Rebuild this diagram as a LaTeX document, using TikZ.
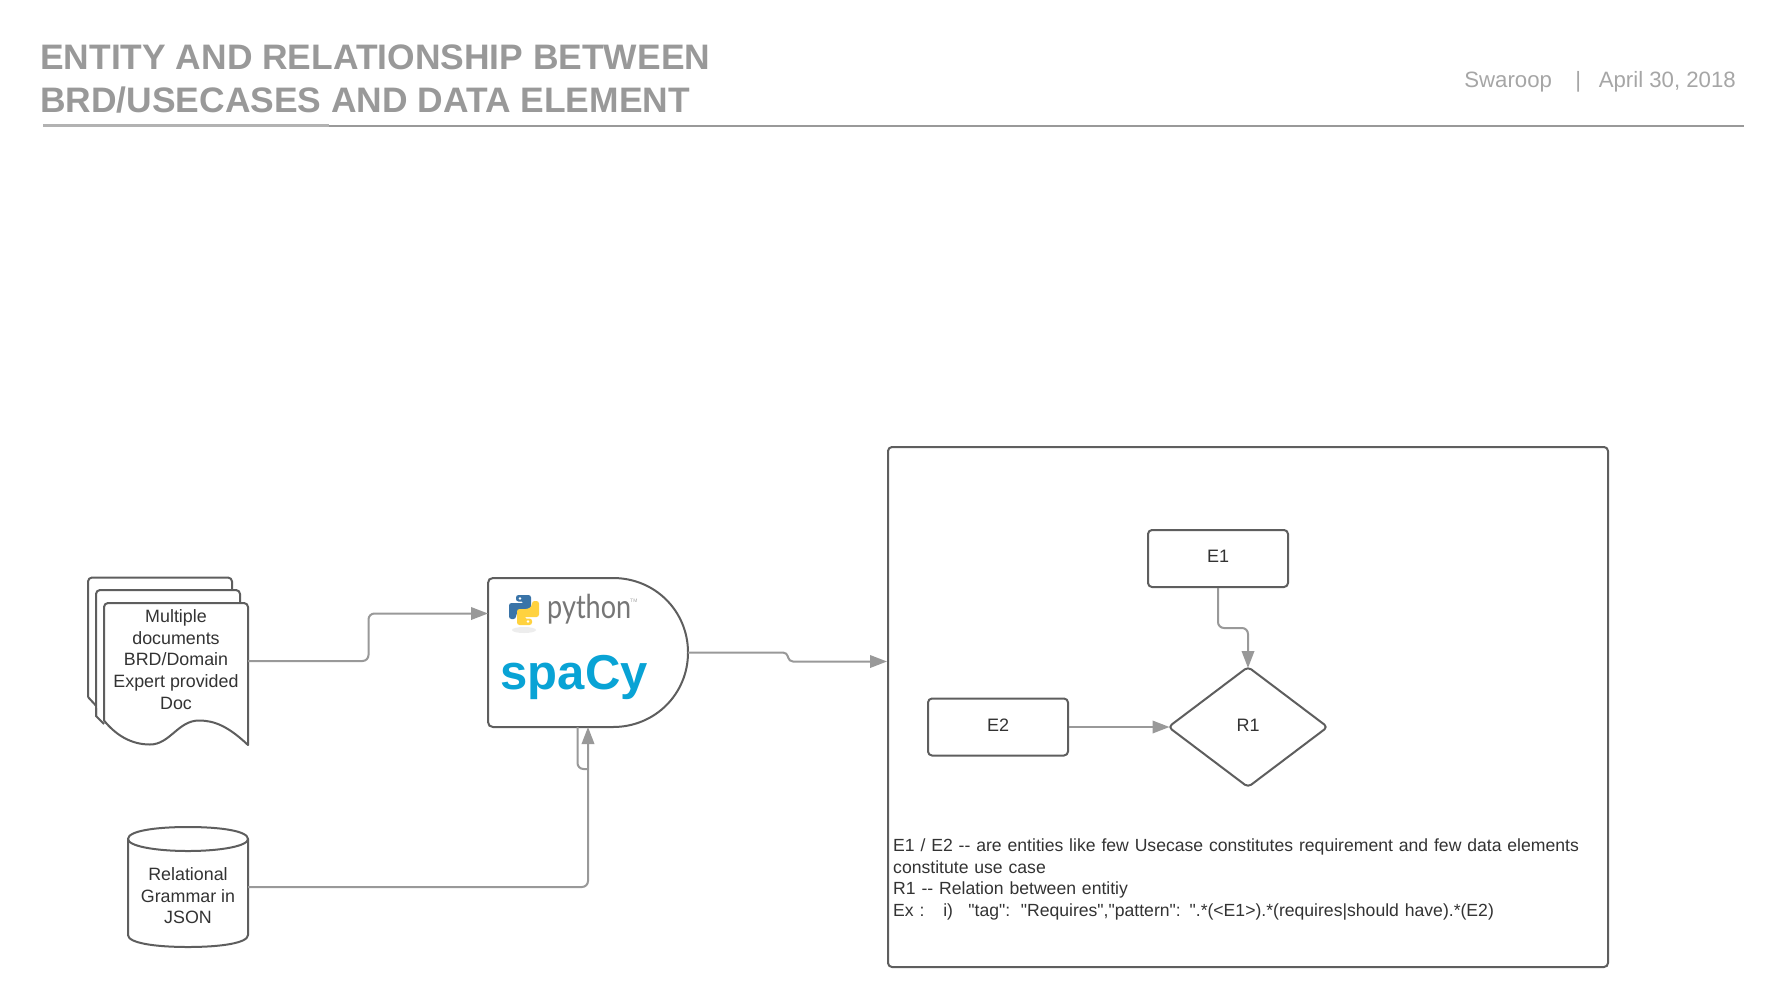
\documentclass[tikz,border=0pt]{standalone}
\usepackage{fontspec}
\setmainfont{Liberation Sans}
\newfontfamily\notefont{Liberation Sans}
\newfontfamily\pyfont{Lato}
\usetikzlibrary{arrows.meta,shapes.geometric}
\definecolor{ln}{HTML}{5E5E5E}
\definecolor{cn}{HTML}{999999}
\definecolor{tx}{HTML}{333333}
\definecolor{hd}{HTML}{999999}
\definecolor{sub}{HTML}{A6A6A6}
\definecolor{spacyblue}{HTML}{09A3D5}
\definecolor{pyblue}{HTML}{3A74A8}
\definecolor{pyyellow}{HTML}{FFD23F}
\newcommand{\fsz}[2]{\fontsize{#1}{#2}\selectfont}
\tikzset{
  x=1pt,y=-1pt,
  outline/.style={draw=ln,line width=2pt,line join=round},
  blank/.style={inner sep=0pt,outer sep=0pt,minimum width=#1},
  entbox/.style={outline,rounded corners=4pt,inner sep=0pt,minimum width=140pt,minimum height=57pt},
  conn/.style={draw=cn,line width=2pt,rounded corners=6pt},
  arrowed/.style={conn,-{Triangle[length=17pt,width=12.5pt,fill=cn]}},
  lbl/.style={text=tx,align=center,font=\fsz{17.85}{21.6},inner sep=0pt},
  entlabel/.style={anchor=base,inner sep=0pt,text=tx,font=\fsz{18}{22}},
}
\begin{document}
\begin{tikzpicture}
\useasboundingbox (0,0) rectangle (1785,1007);
\fill[white] (0,0) rectangle (1785,1007);
% header
\node[anchor=base west,inner sep=0pt,text=hd,font=\fsz{35.4}{43}\bfseries] (t1) at (40,69) {ENTITY AND RELATIONSHIP BETWEEN};
\node[anchor=base west,inner sep=0pt,text=hd,font=\fsz{35.4}{43}\bfseries] (t2) at (40,112) {BRD/USECASES AND DATA ELEMENT};
\node[anchor=base east,inner sep=0pt,text=sub,font=\fsz{22.2}{26}] (author) at (1736,87.5) {Swaroop\hspace{1.05em}|\hspace{0.8em}April 30, 2018};
\draw[cn,line width=2.5pt] (329,126) -- (1744,126);
\draw[cn!75,line width=2.5pt] (43,125.7) -- (329,125.7);
% stacked documents
\draw[outline,fill=white,rounded corners=4pt] (88,697) -- (88,577.5) -- (232,577.5) -- (232,620);
\draw[outline] (88,697) -- (100,710);
\draw[outline,fill=white,rounded corners=4pt] (96,716) -- (96,590) -- (240,590) -- (240,620);
\draw[outline] (96,708) -- (96,716) -- (104,724);
\draw[outline,fill=white] (104,720.5) [rounded corners=4pt] -- (104,603) -- (248,603) [sharp corners] -- (248,745)
  .. controls (228,726) and (214,720.5) .. (199,720.5)
  .. controls (178,720.5) and (170,744.5) .. (150,744.5)
  .. controls (130,744.5) and (115,734) .. (104,720.5) -- cycle;
\node[blank=144pt,minimum height=118pt] (doc) at (176,661) {};
\node[lbl] (doctext) at (176,659.5) {Multiple\\documents\\BRD/Domain\\Expert provided\\Doc};
% cylinder
\draw[outline,fill=white] (128,839) .. controls (128,831) and (155,827) .. (188,827)
  .. controls (221,827) and (248,831) .. (248,839) -- (248,935)
  .. controls (248,943) and (221,947) .. (188,947)
  .. controls (155,947) and (128,943) .. (128,935) -- cycle;
\draw[outline] (128,839) .. controls (128,846) and (155,851) .. (188,851) .. controls (221,851) and (248,846) .. (248,839);
\node[blank=120pt,minimum height=120pt] (cyl) at (188,887) {};
\node[lbl] (cyltext) at (188,896) {Relational\\Grammar in\\JSON};
% python / spaCy shape
\draw[outline,fill=white] (613,578) .. controls (655,578) and (688,611) .. (688,652.5)
  .. controls (688,694) and (655,727) .. (613,727) -- (493,727)
  .. controls (490,727) and (488,725) .. (488,722) -- (488,583)
  .. controls (488,580) and (490,578) .. (493,578) -- cycle;
\node[blank=200pt,minimum height=149pt] (py) at (588,652.5) {};
% python logo
\fill[gray!14] (524,630) ellipse [x radius=12,y radius=3];
\fill[pyblue,rounded corners=2.5pt] (516,595) -- (531,595) -- (531,611) -- (520,611) -- (516,614) -- (516,619) -- (509,619) -- (509,603) -- (524,603) -- (524,601.5) -- (516,601.5) -- cycle;
\fill[pyyellow,rounded corners=2.5pt] (532,625) -- (517,625) -- (517,609) -- (528,609) -- (532,606) -- (532,601) -- (539,601) -- (539,617) -- (524,617) -- (524,618.5) -- (532,618.5) -- cycle;
\fill[white] (520,598.5) circle (1.4);
\fill[white] (528,621.5) circle (1.4);
\node[anchor=base west,inner sep=0pt,text=ln!85,font=\pyfont\fsz{33}{33}] (pytext) at (547,618) {\scalebox{.82}[1]{python}};
\node[anchor=base west,inner sep=0pt,text=sub,font=\fsz{5}{5}] (pytm) at (630,602) {TM};
\node[anchor=base west,inner sep=0pt,text=spacyblue,font=\fsz{49}{49}\bfseries] (spacy) at (500.5,689) {spaCy};
% big frame
\node[outline,rounded corners=4pt,inner sep=0pt,minimum width=720pt,minimum height=520pt] (frame) at (1248,707) {};
\node[entbox] (e1) at (1218,558.5) {};
\node[entlabel] (e1text) at (1218,562) {E1};
\node[entbox] (e2) at (998,727) {};
\node[entlabel] (e2text) at (998,731) {E2};
\node[outline,diamond,rounded corners=4pt,inner sep=0pt,aspect=1.33,minimum width=160pt,minimum height=121pt] (r1) at (1248,727) {};
\node[entlabel] (r1text) at (1248,731) {R1};
\node[anchor=base west,inner sep=0pt,text=tx,font=\notefont\fsz{17.6}{21.6},align=left,text width=710pt] (note) at (893,851.5)
 {E1 / E2 -- are entities like few Usecase constitutes requirement and few data elements\\
  constitute use case\\
  R1 -- Relation between entitiy\\
  Ex :\hspace{1.07em}i)\hspace{0.87em}"tag":\hspace{0.6em}"Requires","pattern": ".*(<E1>).*(requires|should have).*(E2)};
% connectors
\path[arrowed] (doc.east) -- (368.5,661) -- (368.5,613.5) -- (py.west |- 0,613.5);
\path[arrowed,rounded corners=4pt] (py.east) -- (787,652.5) -- (789,661.5) -- (frame.west |- 0,661.5);
\path[arrowed] (cyl.east) -- (588,887) -- (py.south);
\path[conn] (577.5,727) -- (577.5,769) -- (588,769);
\path[arrowed,shorten >=-2.5pt] (e1.south) -- (1218,628) -- (1248,628) -- (r1.north);
\path[arrowed,shorten >=-2.5pt] (e2.east) -- (r1.west);
\end{tikzpicture}
\end{document}
